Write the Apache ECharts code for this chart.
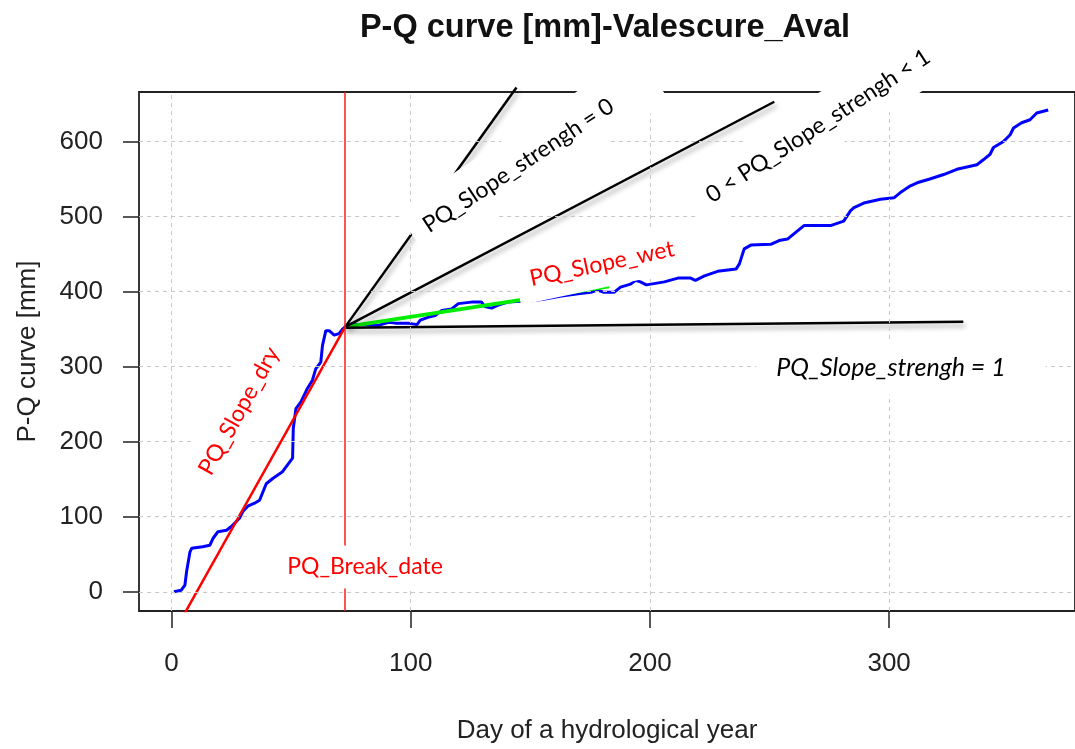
<!DOCTYPE html>
<html>
<head>
<meta charset="utf-8">
<script src="https://cdn.jsdelivr.net/npm/echarts@6/dist/echarts.min.js"></script>
<style>
html,body{margin:0;padding:0;background:#fff;}
#chart{width:1075px;height:749px;}
</style>
</head>
<body>
<div id="chart"></div>
<script>
// ---------------- data ----------------
const chartTitle = 'P-Q curve [mm]-Valescure_Aval';
const xAxisTitle = 'Day of a hydrological year';
const yAxisTitle = 'P-Q curve [mm]';
const xTicks = [0, 100, 200, 300];
const yTicks = [0, 100, 200, 300, 400, 500, 600];

// cumulative P-Q curve [day, mm]
const pqDays = [1,4,5.6,6.3,7.7,8.4,13,16,17.3,19.4,23,25,28.4,29.8,31.9,34.7,36.8,39.6,42.3,46.4,48.5,50.6,50.9,52,54.1,56.8,58.9,60.3,62.4,63.1,64.5,65.9,68,70,71.5,72.6,
  75.5,80,86.5,90.7,93.6,99,102.6,104,107.5,110.2,113,117.1,119.9,125.4,129.6,131,133.8,136.5,140.7,146,151.8,156,163,170,175.3,178,180.8,185,187.7,191.9,194,196,198.5,206,211.7,217,219,222.8,228.3,236,237.4,239.4,242.2,250.5,254,257.5,261.7,264.4,275.5,281,283.9,285.3,289.4,296.4,302,304.7,308.9,311.7,317,322.8,328.3,336.7,339.5,342.2,343.6,347.8,350.6,352,355.4,358.9,361.7,366.5];
const pqValues = [0,2,9,27,53,58,60,62,71,80,82,87,98,107,114,118,122,144,151,160,169,178,218,244,253,271,282,297,306,328,348,348,342,344,350,353,
  357,356,355,359,358,358,356,362,366,368,375,377,384,386,386,380,378,382,386,387,388,390,394,397,399,402,399,399,406,410,415,413,409,413,418,418,415,421,427,430,437,457,462,463,468,470,481,488,488,494,508,512,518,523,525,532,541,545,550,556,563,569,576,583,592,600,609,618,625,629,638,642];

const breakDay = 72.6;
const slopeDryLine = [[0, -60], [72.6, 353]];
const slopeWetLine = [[72.6, 353], [183, 407]];
const strength0Line = [[72.6, 353], [144.2, 672]];
const strengthMidLine = [[72.6, 353], [252, 653]];
const strength1Line = [[73, 352], [331, 360]];

// ---------------- chart ----------------
const chart = echarts.init(document.getElementById('chart'), null, {renderer: 'canvas'});
const pqData = pqDays.map((d, i) => [d, pqValues[i]]);

const axisFont = 'Liberation Sans';
const noteFont = 'Lato';
const blackShadow = {shadowColor: 'rgba(0,0,0,0.35)', shadowBlur: 5, shadowOffsetX: 2, shadowOffsetY: 4};

function note(text, x, y, deg, color, padding, italic, size) {
  return {
    type: 'text', x: x, y: y, rotation: deg * Math.PI / 180, z: 50,
    style: {
      text: text, fill: color, fontSize: size || 23, fontFamily: noteFont,
      fontStyle: italic ? 'italic' : 'normal',
      align: 'center', verticalAlign: 'middle',
      backgroundColor: '#ffffff', padding: padding
    }
  };
}

const option = {
  animation: false,
  backgroundColor: '#ffffff',
  title: {
    text: chartTitle, left: 600, top: 7, textAlign: 'center',
    textStyle: {fontFamily: axisFont, fontSize: 32.5, fontWeight: 'bold', color: '#111'}
  },
  grid: {left: 139, top: 92, bottom: 136, right: -5, show: true, borderColor: '#222', borderWidth: 1.8, containLabel: false},
  xAxis: {
    type: 'value', min: -13.6, max: 377.7,
    name: xAxisTitle, nameLocation: 'middle', nameGap: 107,
    nameTextStyle: {fontFamily: axisFont, fontSize: 26, color: '#222'},
    axisLine: {show: false, onZero: false},
    axisTick: {show: true, length: 17, customValues: xTicks, lineStyle: {color: '#222', width: 1.5}},
    axisLabel: {customValues: xTicks, margin: 40, fontFamily: axisFont, fontSize: 26, color: '#222'},
    splitLine: {show: false}
  },
  yAxis: {
    type: 'value', min: -25.6, max: 666,
    name: yAxisTitle, nameLocation: 'middle', nameGap: 98, nameRotate: 90,
    nameTextStyle: {fontFamily: axisFont, fontSize: 26, color: '#222'},
    axisLine: {show: false, onZero: false},
    axisTick: {show: true, length: 16, customValues: yTicks, lineStyle: {color: '#222', width: 1.5}},
    axisLabel: {customValues: yTicks, margin: 36, fontFamily: axisFont, fontSize: 26, color: '#222'},
    splitLine: {show: false}
  },
  series: [
    {
      type: 'line', data: [], silent: true,
      markLine: {
        silent: true, symbol: 'none', label: {show: false},
        lineStyle: {color: '#c8c8c8', type: [4, 4], width: 1},
        data: xTicks.map(v => ({xAxis: v})).concat(yTicks.map(v => ({yAxis: v})))
      }
    },
    {
      type: 'line', data: [], silent: true,
      markLine: {
        silent: true, symbol: 'none', label: {show: false},
        lineStyle: {color: '#ff1a1a', type: 'solid', width: 1.5},
        data: [{xAxis: breakDay}]
      }
    },
    {type: 'line', data: pqData, showSymbol: false, lineStyle: {color: '#0000ff', width: 3}},
    {type: 'line', data: slopeDryLine, showSymbol: false, clip: true, lineStyle: {color: '#ff0000', width: 2.5}},
    {type: 'line', data: slopeWetLine, showSymbol: false, lineStyle: {color: '#00ee00', width: 4}},
    {type: 'line', data: strength0Line, showSymbol: false, clip: false, lineStyle: Object.assign({color: '#000', width: 2.5}, blackShadow)},
    {type: 'line', data: strengthMidLine, showSymbol: false, clip: false, lineStyle: Object.assign({color: '#000', width: 2.5}, blackShadow)},
    {type: 'line', data: strength1Line, showSymbol: false, clip: false, lineStyle: Object.assign({color: '#000', width: 2.5}, blackShadow)}
  ],
  graphic: [
    note('PQ_Slope_strengh = 0', 533, 156, 33.5, '#000', [18, 50, 18, 15], false),
    note('0 < PQ_Slope_strengh < 1', 818, 126, 33, '#000', [16, 20, 16, 20], false),
    note('PQ_Slope_strengh = 1', 901, 368, 0, '#000', [14, 40, 14, 20], true, 25),
    note('PQ_Slope_wet', 601, 264, 12, '#ff0000', [12, 12, 12, 14], false),
    note('PQ_Slope_dry', 239, 411, 61, '#ff0000', [14, 12, 14, 12], false),
    note('PQ_Break_date', 365, 567, 0, '#ff0000', [10, 5, 10, 5], false)
  ]
};
chart.setOption(option);
</script>
</body>
</html>
